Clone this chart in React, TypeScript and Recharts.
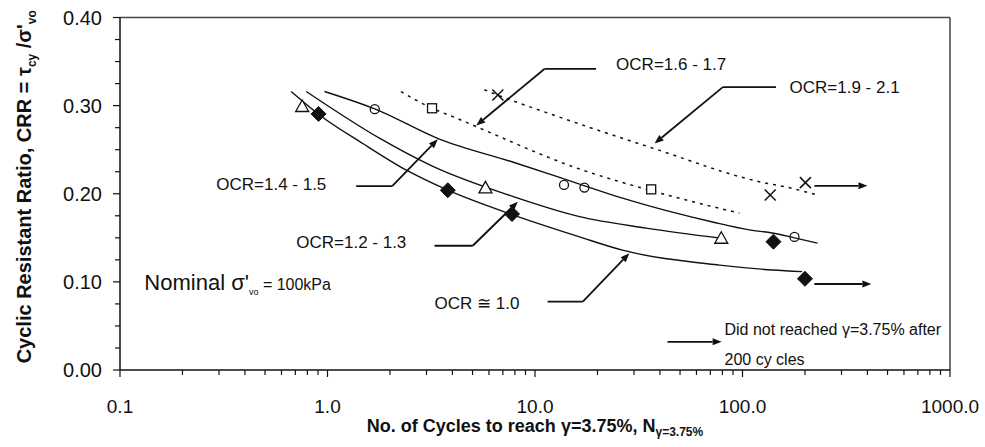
import React from 'react';
import {
  ComposedChart,
  Line,
  Scatter,
  XAxis,
  YAxis,
  ReferenceLine,
  ReferenceDot,
  Label,
} from 'recharts';

const FONT = '"Liberation Sans", Arial, Helvetica, sans-serif';
const INK = '#111';

// ---- axes -----------------------------------------------------------------
const xMajorTicks = [0.1, 1, 10, 100, 1000];
const xMinorFactors = [2, 3, 4, 5, 6, 7, 8, 9];
const xTicks: number[] = [];
xMajorTicks.forEach((m, i) => {
  xTicks.push(m);
  if (i < xMajorTicks.length - 1) {
    xMinorFactors.forEach((k) => xTicks.push(Number((k * m).toPrecision(3))));
  }
});
const yTicks = [
  0, 0.025, 0.05, 0.075, 0.1, 0.125, 0.15, 0.175, 0.2, 0.225, 0.25, 0.275, 0.3,
  0.325, 0.35, 0.375, 0.4,
];

// ---- fitted trend curves (N cycles, CRR) -----------------------------------
const curveOcr10 = [
  { x: 0.668, y: 0.316 },
  { x: 0.908, y: 0.29 },
  { x: 1.48, y: 0.257 },
  { x: 2.39, y: 0.227 },
  { x: 3.8, y: 0.204 },
  { x: 7.82, y: 0.176 },
  { x: 16.4, y: 0.151 },
  { x: 26.4, y: 0.136 },
  { x: 77.5, y: 0.119 },
  { x: 139.6, y: 0.1135 },
  { x: 194, y: 0.1116 },
];
const curveOcr12 = [
  { x: 0.79, y: 0.316 },
  { x: 1.78, y: 0.263 },
  { x: 3.22, y: 0.231 },
  { x: 7.8, y: 0.197 },
  { x: 16.4, y: 0.174 },
  { x: 34.3, y: 0.161 },
  { x: 79, y: 0.1495 },
];
const curveOcr14 = [
  { x: 0.967, y: 0.316 },
  { x: 1.7, y: 0.296 },
  { x: 3.46, y: 0.262 },
  { x: 7.8, y: 0.236 },
  { x: 16.4, y: 0.211 },
  { x: 26.4, y: 0.195 },
  { x: 71.7, y: 0.168 },
  { x: 108, y: 0.159 },
  { x: 139, y: 0.1555 },
  { x: 178, y: 0.15 },
  { x: 230, y: 0.144 },
];
const curveOcr16 = [
  { x: 2.26, y: 0.316 },
  { x: 3.19, y: 0.297 },
  { x: 3.87, y: 0.289 },
  { x: 16.9, y: 0.227 },
  { x: 35.6, y: 0.204 },
  { x: 96.7, y: 0.178 },
];
const curveOcr19 = [
  { x: 5.7, y: 0.318 },
  { x: 6.6, y: 0.312 },
  { x: 11.7, y: 0.291 },
  { x: 35.6, y: 0.253 },
  { x: 130, y: 0.212 },
  { x: 160, y: 0.208 },
  { x: 226, y: 0.199 },
];

// ---- test results -------------------------------------------------------------
const triangles = [
  { x: 0.755, y: 0.299 },
  { x: 5.77, y: 0.2066 },
  { x: 79, y: 0.1495 },
];
const diamonds = [
  { x: 0.905, y: 0.2906 },
  { x: 3.8, y: 0.204 },
  { x: 7.75, y: 0.177 },
  { x: 141, y: 0.1456 },
  { x: 200, y: 0.1035 },
];
const circles = [
  { x: 1.69, y: 0.296 },
  { x: 13.8, y: 0.21 },
  { x: 17.3, y: 0.207 },
  { x: 178, y: 0.151 },
];
const squares = [
  { x: 3.19, y: 0.297 },
  { x: 36.3, y: 0.205 },
];
const crosses = [
  { x: 6.62, y: 0.312 },
  { x: 136, y: 0.1986 },
  { x: 201, y: 0.2126 },
];

// ---- annotation leaders: [start, end, arrowhead] --------------------------
type Pt = { x: number; y: number };
const leaders: { from: Pt; to: Pt; head: boolean }[] = [
  // OCR=1.6 - 1.7
  { from: { x: 19.7, y: 0.3416 }, to: { x: 11.1, y: 0.3416 }, head: false },
  { from: { x: 11.1, y: 0.3416 }, to: { x: 5.21, y: 0.2775 }, head: true },
  // OCR=1.9 - 2.1
  { from: { x: 145, y: 0.321 }, to: { x: 80.4, y: 0.321 }, head: false },
  { from: { x: 80.4, y: 0.321 }, to: { x: 37.7, y: 0.257 }, head: true },
  // OCR=1.4 - 1.5
  { from: { x: 1.375, y: 0.2087 }, to: { x: 2.05, y: 0.2087 }, head: false },
  { from: { x: 2.05, y: 0.2087 }, to: { x: 3.4, y: 0.2618 }, head: true },
  // OCR=1.2 - 1.3
  { from: { x: 3.28, y: 0.141 }, to: { x: 5.01, y: 0.141 }, head: false },
  { from: { x: 5.01, y: 0.141 }, to: { x: 8.27, y: 0.191 }, head: true },
  // OCR ≅ 1.0
  { from: { x: 11.5, y: 0.0775 }, to: { x: 17.0, y: 0.0775 }, head: false },
  { from: { x: 17.0, y: 0.0775 }, to: { x: 28.5, y: 0.1325 }, head: true },
  // run-outs (no failure after 200 cycles)
  { from: { x: 222, y: 0.209 }, to: { x: 400, y: 0.209 }, head: true },
  { from: { x: 222, y: 0.0976 }, to: { x: 418, y: 0.0976 }, head: true },
  // key arrow
  { from: { x: 43.5, y: 0.032 }, to: { x: 79.3, y: 0.032 }, head: true },
];

const ocrLabels = [
  { x: 24.6, y: 0.3405, text: 'OCR=1.6 - 1.7' },
  { x: 168.5, y: 0.3144, text: 'OCR=1.9 - 2.1' },
  { x: 0.291, y: 0.2043, text: 'OCR=1.4 - 1.5' },
  { x: 0.707, y: 0.1385, text: 'OCR=1.2 - 1.3' },
  { x: 3.28, y: 0.0692, text: 'OCR \u2245 1.0' },
];
const keyLines = [
  { x: 81.9, y: 0.0397, text: 'Did not reached \u03b3=3.75% after' },
  { x: 81.9, y: 0.0057, text: '200 cy cles' },
];
const nominalPos = { x: 0.131, y: 0.0908 };

// ---- renderers ---------------------------------------------------------------
const isXMajor = (v: number) => xMajorTicks.some((m) => Math.abs(m - v) < 1e-9);

const XTick = (props: any) => {
  const { x, y, payload } = props;
  const v = payload.value as number;
  const major = isXMajor(v);
  return (
    <g>
      <line x1={x} y1={y} x2={x} y2={y + (major ? 7 : 5)} stroke={INK} strokeWidth={1.2} />
      {major && (
        <text x={x} y={y + 43} textAnchor="middle" fontSize={19} fontFamily={FONT} fill={INK}>
          {v.toFixed(1)}
        </text>
      )}
    </g>
  );
};

const YTick = (props: any) => {
  const { x, y, payload } = props;
  const v = payload.value as number;
  const major = Math.abs(v * 10 - Math.round(v * 10)) < 1e-6;
  return (
    <g>
      <line x1={x - (major ? 7 : 5)} y1={y} x2={x} y2={y} stroke={INK} strokeWidth={1.2} />
      {major && (
        <text x={x - 18} y={y + 7} textAnchor="end" fontSize={20} fontFamily={FONT} fill={INK}>
          {v.toFixed(2)}
        </text>
      )}
    </g>
  );
};

const YTitle = (props: any) => {
  const vb = props.viewBox || { x: 0, y: 17.5, width: 120, height: 352.5 };
  const cx = vb.x + 31;
  const cy = vb.y + vb.height / 2 - 7;
  return (
    <text
      transform={`translate(${cx},${cy}) rotate(-90)`}
      textAnchor="middle"
      fontSize={20}
      fontWeight="bold"
      fontFamily={FONT}
      fill={INK}
    >
      Cyclic Resistant Ratio, CRR = {'\u03c4'}
      <tspan fontSize={12} dy={5}>cy</tspan>
      <tspan dy={-5}> /{'\u03c3'}'</tspan>
      <tspan fontSize={12} dy={5}>vo</tspan>
    </text>
  );
};

const XTitle = (props: any) => {
  const vb = props.viewBox || { x: 120, y: 370, width: 830, height: 60 };
  const cx = vb.x + vb.width / 2;
  const cy = vb.y + 62;
  return (
    <text x={cx} y={cy} textAnchor="middle" fontSize={18} fontWeight="bold" fontFamily={FONT} fill={INK}>
      No. of Cycles to reach {'\u03b3'}=3.75%, N
      <tspan fontSize={12} dy={4}>{'\u03b3'}=3.75%</tspan>
    </text>
  );
};

const TriangleMark = (p: any) => (
  <polygon
    points={`${p.cx},${p.cy - 6.5} ${p.cx - 6.5},${p.cy + 5} ${p.cx + 6.5},${p.cy + 5}`}
    fill="#fff"
    stroke={INK}
    strokeWidth={1.3}
  />
);
const DiamondMark = (p: any) => (
  <polygon
    points={`${p.cx},${p.cy - 7.5} ${p.cx + 7.5},${p.cy} ${p.cx},${p.cy + 7.5} ${p.cx - 7.5},${p.cy}`}
    fill={INK}
    stroke={INK}
    strokeWidth={1}
  />
);
const CircleMark = (p: any) => (
  <circle cx={p.cx} cy={p.cy} r={4.5} fill="none" stroke={INK} strokeWidth={1.3} />
);
const SquareMark = (p: any) => (
  <rect x={p.cx - 4.5} y={p.cy - 4.5} width={9} height={9} fill="#fff" stroke={INK} strokeWidth={1.3} />
);
const CrossMark = (p: any) => (
  <g stroke={INK} strokeWidth={1.5}>
    <line x1={p.cx - 5.5} y1={p.cy - 5.5} x2={p.cx + 5.5} y2={p.cy + 5.5} />
    <line x1={p.cx - 5.5} y1={p.cy + 5.5} x2={p.cx + 5.5} y2={p.cy - 5.5} />
  </g>
);

const leaderShape = (head: boolean) => (p: any) => {
  const { x1, y1, x2, y2 } = p;
  if ([x1, y1, x2, y2].some((v) => typeof v !== 'number' || isNaN(v))) return <g />;
  const dx = x2 - x1;
  const dy = y2 - y1;
  const len = Math.sqrt(dx * dx + dy * dy) || 1;
  const ux = dx / len;
  const uy = dy / len;
  const hl = 9;
  const hw = 3.5;
  const bx = x2 - ux * hl;
  const by = y2 - uy * hl;
  return (
    <g>
      <line x1={x1} y1={y1} x2={head ? bx : x2} y2={head ? by : y2} stroke={INK} strokeWidth={1.8} />
      {head && (
        <polygon
          points={`${x2},${y2} ${bx - uy * hw},${by + ux * hw} ${bx + uy * hw},${by - ux * hw}`}
          fill={INK}
        />
      )}
    </g>
  );
};

const textShape = (text: string, size: number) => (p: any) => (
  <text x={p.cx} y={p.cy} fontSize={size} fontFamily={FONT} fill={INK}>
    {text}
  </text>
);

const NominalShape = (p: any) => (
  <text x={p.cx} y={p.cy} fontSize={22} fontFamily={FONT} fill={INK}>
    Nominal {'\u03c3'}'
    <tspan fontSize={9} dy={5}>vo</tspan>
    <tspan fontSize={16} dy={-5}> = 100kPa</tspan>
  </text>
);

export default function App() {
  return (
    <div style={{ position: 'absolute', left: 0, top: 0, width: 985, height: 447, background: '#fff' }}>
      <ComposedChart
        width={985}
        height={447}
        margin={{ top: 17.5, right: 35, bottom: 17, left: 0 }}
        style={{ fontFamily: FONT }}
      >
        <XAxis
          dataKey="x"
          type="number"
          scale="log"
          domain={[0.1, 1000]}
          allowDataOverflow
          ticks={xTicks}
          interval={0}
          tick={XTick}
          tickLine={false}
          tickSize={0}
          tickMargin={0}
          height={60}
          axisLine={{ stroke: INK, strokeWidth: 1.5 }}
          label={<Label content={XTitle} />}
        />
        <YAxis
          dataKey="y"
          type="number"
          domain={[0, 0.4]}
          allowDataOverflow
          ticks={yTicks}
          interval={0}
          tick={YTick}
          tickLine={false}
          tickSize={0}
          tickMargin={0}
          width={120}
          axisLine={{ stroke: INK, strokeWidth: 1.5 }}
          label={<Label content={YTitle} />}
        />

        <ReferenceLine y={0.4} stroke="#444" strokeWidth={1.5} />
        <ReferenceLine x={1000} stroke="#444" strokeWidth={1.5} />

        <Line data={curveOcr10} dataKey="y" type="monotone" stroke={INK} strokeWidth={1.4} dot={false} isAnimationActive={false} />
        <Line data={curveOcr12} dataKey="y" type="monotone" stroke={INK} strokeWidth={1.4} dot={false} isAnimationActive={false} />
        <Line data={curveOcr14} dataKey="y" type="monotone" stroke={INK} strokeWidth={1.4} dot={false} isAnimationActive={false} />
        <Line data={curveOcr16} dataKey="y" type="monotone" stroke={INK} strokeWidth={1.5} strokeDasharray="3 5" dot={false} isAnimationActive={false} />
        <Line data={curveOcr19} dataKey="y" type="monotone" stroke={INK} strokeWidth={1.5} strokeDasharray="3 5" dot={false} isAnimationActive={false} />

        {leaders.map((l, i) => (
          <ReferenceLine
            key={`ld${i}`}
            segment={[l.from, l.to]}
            stroke={INK}
            shape={leaderShape(l.head)}
          />
        ))}

        <Scatter data={triangles} shape={TriangleMark} isAnimationActive={false} />
        <Scatter data={diamonds} shape={DiamondMark} isAnimationActive={false} />
        <Scatter data={circles} shape={CircleMark} isAnimationActive={false} />
        <Scatter data={squares} shape={SquareMark} isAnimationActive={false} />
        <Scatter data={crosses} shape={CrossMark} isAnimationActive={false} />

        {ocrLabels.map((t, i) => (
          <ReferenceDot key={`ol${i}`} x={t.x} y={t.y} r={0} shape={textShape(t.text, 17)} />
        ))}
        {keyLines.map((t, i) => (
          <ReferenceDot key={`kl${i}`} x={t.x} y={t.y} r={0} shape={textShape(t.text, 16)} />
        ))}
        <ReferenceDot x={nominalPos.x} y={nominalPos.y} r={0} shape={NominalShape} />
      </ComposedChart>
    </div>
  );
}
